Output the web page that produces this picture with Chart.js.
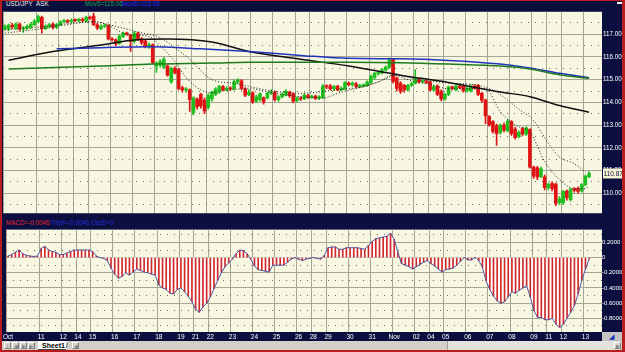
<!DOCTYPE html>
<html>
<head>
<meta charset="utf-8">
<script src="https://cdn.jsdelivr.net/npm/chart.js@4.4.0/dist/chart.umd.min.js"></script>
<style>
  body { margin:0; width:625px; height:352px; overflow:hidden; background:#b81c1c; font-family:Arial, "Liberation Sans", sans-serif; }
  .abs { position:absolute; }
  .navy { background:#0b0f3f; }
  .txt { position:absolute; font-size:6.3px; line-height:7px; white-space:nowrap; }
  canvas { position:absolute; }
  .btn { position:absolute; top:1px; width:7px; height:7px; background:#d4d0c8; border:1px solid #fff; border-right-color:#808080; border-bottom-color:#808080; font-size:5px; line-height:6px; text-align:center; color:#808080; box-sizing:border-box; overflow:hidden; }
</style>
</head>
<body>
<div class="abs navy" style="left:2px;top:1px;width:620px;height:6px;">
  <span class="txt" style="left:4px;top:-1px;color:#e8e8e8;">USD/JPY_ASK</span>
  <span class="txt" style="left:83px;top:-1px;color:#18a050;">Mov5=115.06</span>
  <span class="txt" style="left:120px;top:-1px;color:#2a2ae0;">Mov6=115.09</span>
  <div class="abs" style="left:615px;top:1px;width:5px;height:2px;background:#f0f0f0;"></div>
</div>
<canvas id="price" width="620" height="211" style="left:2px;top:7px;"></canvas>
<div class="abs navy" style="left:2px;top:218px;width:620px;height:8px;">
  <span class="txt" style="left:4px;top:1px;color:#e02828;">MACD=-0.0046</span>
  <span class="txt" style="left:48px;top:1px;color:#2a2ad0;">Trig9=-0.0046 OscE=0</span>
</div>
<canvas id="macd" width="620" height="115" style="left:2px;top:226px;"></canvas>
<div class="abs" style="left:602px;top:332px;width:20px;height:9px;background:#c4c4c4;">
  <span class="txt" style="left:7px;top:1px;color:#1030c0;font-size:7px;">&#9698;</span>
</div>
<div class="abs" style="left:2px;top:341px;width:620px;height:9px;background:#d4d0c8;">
  <div class="btn" style="left:2px;">|&#9664;</div>
  <div class="btn" style="left:10px;">&#9664;</div>
  <div class="btn" style="left:18px;">&#9654;</div>
  <div class="btn" style="left:26px;">&#9654;|</div>
  <div class="abs" style="left:36px;top:0px;width:28px;height:8px;background:#fff;border-bottom:1px solid #404040;"></div>
  <span class="txt" style="left:40px;top:1px;color:#000;font-weight:bold;font-size:7px;">Sheet1</span>
  <span class="txt" style="left:64px;top:1px;color:#000;">/</span>
  <div class="btn" style="left:70px;">&#9664;</div>
  <div class="abs" style="left:445px;top:0px;width:168px;height:9px;background:#e4e2dc;border-left:1px solid #a0a0a0;"></div>
  <div class="btn" style="left:612px;">&#9654;</div>
</div>
<script>
// day labels along the time axis and the number of 4-hour bars in each day
const dayLabels = ['Oct','11','12','14','15','16','17','18','19','21','22','23','24','25','26','28','29','30','31','Nov','02','04','05','06','07','08','09','11','12','13'];
const dayBars = [9,6,4,4,6,6,6,6,4,4,6,6,6,6,4,4,6,6,6,6,4,4,6,6,6,6,4,4,6,2];
const emptyBars = 3;

const open = [117.25,117.22,117.40,117.28,117.45,117.22,117.28,117.32,117.42,117.55,
  117.75,117.25,117.35,117.45,117.30,117.42,117.55,117.60,117.55,117.62,
  117.60,117.66,117.58,117.75,117.80,117.42,117.25,117.35,117.38,116.80,
  116.76,116.60,116.90,117.05,116.98,116.68,117.05,116.80,116.70,116.48,
  116.53,115.60,115.65,115.55,115.60,114.90,115.50,115.45,114.65,114.55,
  114.55,113.55,114.15,114.35,114.10,113.78,114.15,114.35,114.48,114.70,
  114.55,114.62,114.60,114.90,114.95,114.60,114.35,114.42,114.05,114.12,
  114.20,114.20,114.40,114.45,114.12,114.25,114.32,114.45,114.38,114.08,
  114.20,114.15,114.30,114.22,114.28,114.18,114.22,114.72,114.72,114.60,
  114.72,114.55,114.60,114.85,114.78,114.82,114.70,114.72,114.75,114.88,
  115.10,115.28,115.30,115.42,115.55,115.88,115.08,114.85,114.75,114.55,
  114.75,114.85,115.00,114.90,114.92,114.90,114.55,114.72,114.50,114.15,
  114.35,114.68,114.55,114.72,114.72,114.50,114.50,114.72,114.75,114.40,
  114.10,113.38,113.15,112.98,112.68,113.00,112.75,113.15,112.82,112.50,
  112.85,112.60,112.80,111.15,111.12,110.72,110.72,110.25,110.42,110.40,
  109.60,109.58,110.10,109.72,110.18,110.22,110.10,110.38,110.72];
const high = [117.42,117.45,117.48,117.50,117.50,117.35,117.42,117.50,117.65,117.85,
  117.80,117.42,117.48,117.50,117.48,117.60,117.66,117.65,117.68,117.68,
  117.70,117.72,117.80,117.80,117.93,117.48,117.42,117.45,117.42,116.85,
  116.80,116.98,117.10,117.10,117.00,117.12,117.10,116.85,116.78,116.62,
  116.58,115.80,115.88,115.98,115.65,115.55,115.58,115.50,114.72,114.65,
  114.60,114.25,114.20,114.40,114.20,114.38,114.50,114.65,114.75,114.75,
  114.70,114.68,114.98,115.05,115.00,114.65,114.55,114.48,114.32,114.42,
  114.25,114.45,114.55,114.50,114.30,114.42,114.55,114.50,114.42,114.25,
  114.25,114.38,114.35,114.32,114.32,114.30,114.78,114.78,114.80,114.75,
  114.75,114.68,114.92,114.90,114.90,114.88,114.80,114.82,114.95,115.20,
  115.32,115.35,115.50,115.60,115.95,115.92,115.12,114.92,114.80,114.80,
  114.90,115.45,115.05,114.98,114.98,114.95,114.75,114.78,114.55,114.40,
  114.72,114.72,114.78,114.78,114.78,114.68,114.78,114.78,114.80,114.45,
  114.15,113.42,113.20,113.05,113.05,113.10,113.25,113.20,112.90,112.75,
  112.90,112.92,112.85,111.20,111.18,111.15,110.80,110.45,110.50,110.45,
  109.85,110.12,110.15,110.22,110.25,110.28,110.42,110.80,110.95];
const low = [117.18,117.15,117.25,117.20,117.15,117.08,117.20,117.25,117.38,117.50,
  117.05,117.20,117.28,117.22,117.25,117.38,117.50,117.50,117.50,117.55,
  117.55,117.55,117.55,117.65,117.38,117.20,117.20,117.30,116.75,116.70,
  116.50,116.55,116.85,116.95,116.25,116.62,116.72,116.55,116.40,116.38,
  115.70,115.32,115.55,115.50,115.15,114.85,115.25,114.55,114.45,114.45,
  113.60,113.45,113.70,113.75,113.50,113.70,114.05,114.30,114.40,114.50,
  114.50,114.52,114.55,114.82,114.55,114.25,114.30,113.95,114.00,114.05,
  113.92,114.15,114.35,114.05,114.05,114.20,114.28,114.22,113.98,114.02,
  114.08,114.12,114.18,114.18,114.12,114.12,114.18,114.60,114.55,114.52,
  114.50,114.50,114.55,114.72,114.70,114.65,114.65,114.68,114.70,114.82,
  115.02,115.20,115.25,115.38,115.50,114.85,114.50,114.40,114.45,114.50,
  114.70,114.80,114.85,114.85,114.82,114.50,114.48,114.30,114.08,114.10,
  114.30,114.55,114.50,114.60,114.45,114.45,114.45,114.58,114.30,114.00,
  113.06,112.95,112.65,112.10,112.60,112.70,112.70,112.55,112.38,112.45,
  112.55,112.55,111.10,110.65,110.60,110.70,110.15,110.15,110.10,109.45,
  109.50,109.50,109.70,109.65,110.05,110.00,110.05,110.32,110.70];
const close = [117.35,117.40,117.32,117.45,117.22,117.28,117.35,117.45,117.58,117.78,
  117.25,117.35,117.42,117.30,117.42,117.55,117.60,117.55,117.62,117.60,
  117.66,117.60,117.75,117.70,117.42,117.28,117.35,117.38,116.80,116.76,
  116.58,116.92,117.05,117.00,116.70,117.05,116.80,116.62,116.48,116.55,
  115.75,115.72,115.80,115.90,115.20,115.50,115.30,114.62,114.55,114.58,
  114.12,114.20,113.80,113.85,113.62,114.30,114.45,114.60,114.70,114.55,
  114.62,114.60,114.92,114.98,114.62,114.32,114.45,114.02,114.25,114.38,
  114.02,114.40,114.45,114.12,114.25,114.35,114.50,114.30,114.05,114.20,
  114.15,114.32,114.22,114.28,114.18,114.25,114.72,114.68,114.60,114.70,
  114.55,114.62,114.88,114.78,114.85,114.70,114.75,114.78,114.90,115.15,
  115.28,115.30,115.45,115.55,115.88,114.92,114.62,114.48,114.55,114.75,
  114.82,115.05,114.90,114.92,114.88,114.55,114.70,114.35,114.15,114.35,
  114.68,114.62,114.72,114.65,114.50,114.62,114.72,114.62,114.35,114.10,
  113.40,113.02,112.72,112.62,113.00,112.78,113.18,112.62,112.45,112.68,
  112.60,112.88,111.15,110.75,110.72,111.08,110.25,110.40,110.20,109.55,
  109.75,110.08,109.80,110.18,110.12,110.08,110.38,110.75,110.87];

// moving averages, read at a few bars (bar index, price)
const blackIdx = [1,13,26,35,44,56,66,80,93,107,120,134,142,150,158];
const blackVal = [115.86,116.24,116.53,116.75,116.79,116.66,116.24,115.90,115.60,115.20,114.88,114.46,114.25,113.86,113.57];
const blueIdx = [14,26,39,53,66,80,93,107,120,134,142,150,158];
const blueVal = [116.36,116.41,116.45,116.36,116.24,116.07,115.94,115.92,115.85,115.69,115.52,115.28,115.09];
const greenIdx = [1,26,40,56,66,80,93,107,120,134,142,150,158];
const greenVal = [115.47,115.60,115.69,115.73,115.77,115.77,115.77,115.75,115.69,115.60,115.47,115.22,115.06];
const fastIdx = [0,8,16,24,28,32,36,39,42,46,49,53,56,60,66,73,80,86,91,96,101,105,110,115,120,125,130,134,138,142,146,150,154,157,158];
const fastVal = [117.05,117.20,117.40,117.55,117.40,117.05,116.95,116.90,116.50,115.80,115.10,114.55,114.42,114.54,114.60,114.40,114.25,114.20,114.45,114.65,114.90,115.20,114.95,114.80,114.60,114.60,114.60,113.60,113.00,112.70,111.40,110.60,110.20,110.20,110.30];
const slowIdx = [0,8,16,24,30,36,42,46,50,53,56,62,71,80,89,96,101,106,112,120,128,133,139,143,147,150,154,157];
const slowVal = [117.20,117.30,117.45,117.55,117.35,117.10,116.85,116.40,115.90,115.40,115.00,114.84,114.54,114.40,114.54,114.67,114.90,115.20,115.00,114.85,114.75,114.45,113.70,113.20,112.20,111.60,111.30,110.94];

const macd = [0.02,0.04,0.07,0.10,0.05,0.03,0.02,0.015,0.02,0.12,
  0.15,0.10,0.08,0.07,0.04,0.04,0.06,0.08,0.10,0.10,
  0.10,0.10,0.10,0.08,0.02,0.00,-0.01,-0.04,-0.14,-0.22,
  -0.27,-0.25,-0.20,-0.23,-0.19,-0.15,-0.17,-0.19,-0.20,-0.22,
  -0.23,-0.36,-0.40,-0.42,-0.47,-0.48,-0.42,-0.40,-0.45,-0.51,
  -0.58,-0.68,-0.72,-0.65,-0.60,-0.52,-0.41,-0.30,-0.20,-0.12,
  -0.07,-0.02,0.05,0.10,0.09,0.05,-0.02,-0.11,-0.16,-0.17,
  -0.18,-0.19,-0.10,-0.10,-0.10,-0.10,-0.06,-0.02,0.00,-0.02,
  -0.04,-0.02,-0.01,0.00,-0.01,-0.02,0.03,0.13,0.14,0.14,
  0.11,0.11,0.13,0.13,0.13,0.13,0.12,0.11,0.16,0.21,
  0.25,0.26,0.27,0.28,0.32,0.24,0.07,-0.08,-0.10,-0.12,
  -0.15,-0.12,-0.09,-0.06,-0.04,-0.08,-0.11,-0.15,-0.19,-0.16,
  -0.15,-0.14,-0.10,-0.05,0.00,-0.03,-0.03,0.00,-0.04,-0.13,
  -0.31,-0.42,-0.51,-0.57,-0.60,-0.58,-0.52,-0.45,-0.47,-0.43,
  -0.40,-0.37,-0.52,-0.70,-0.79,-0.79,-0.82,-0.82,-0.80,-0.88,
  -0.92,-0.88,-0.80,-0.72,-0.63,-0.48,-0.30,-0.15,-0.02];

const NAVY = '#0b0f3f';
const PLOT_BG = '#f8f8e2';
const GRID = '#a6a696';
const DOTS = '#6e6e60';
const UP = '#1fbf1f';
const DOWN = '#e01414';

const barLabels = [];
dayLabels.forEach((d, k) => {
  for (let j = 0; j < dayBars[k]; j++) barLabels.push(j === 0 ? d : '');
});
for (let j = 0; j < emptyBars; j++) barLabels.push('');

function sparse(idx, vals) {
  const a = new Array(barLabels.length).fill(null);
  idx.forEach((i, k) => { a[i] = vals[k]; });
  return a;
}

Chart.defaults.font.family = 'Arial, "Liberation Sans", sans-serif';
Chart.defaults.animation = false;

const panelBg = {
  id: 'panelBg',
  beforeDraw(chart) {
    const { ctx, chartArea: a } = chart;
    ctx.save();
    ctx.fillStyle = NAVY;
    ctx.fillRect(0, 0, chart.width, chart.height);
    ctx.fillStyle = PLOT_BG;
    ctx.fillRect(a.left, a.top, a.right - a.left, a.bottom - a.top);
    ctx.restore();
  }
};

const lastPrice = {
  id: 'lastPrice',
  afterDraw(chart) {
    const v = close[close.length - 1];
    const y = chart.scales.y.getPixelForValue(v);
    const x = chart.chartArea.right;
    const ctx = chart.ctx;
    ctx.save();
    ctx.fillStyle = '#f4f4d2';
    ctx.fillRect(x + 1, y - 5, 19, 10);
    ctx.fillStyle = '#101040';
    ctx.font = '6.5px Arial, "Liberation Sans", sans-serif';
    ctx.textBaseline = 'middle';
    ctx.fillText(v.toFixed(2), x + 1.5, y + 0.5);
    ctx.restore();
  }
};

const dayGrid = c => (barLabels[c.index] ? GRID : 'transparent');
const candleColor = c => (close[c.dataIndex] >= open[c.dataIndex] ? UP : DOWN);

function lineSet(data, color, width, dash) {
  return {
    type: 'line', data, borderColor: color, borderWidth: width, borderDash: dash || [],
    pointRadius: 0, spanGaps: true, cubicInterpolationMode: 'monotone', order: 0
  };
}

const PMIN = 109.12, PMAX = 117.99;

new Chart(document.getElementById('price'), {
  type: 'bar',
  data: {
    labels: barLabels,
    datasets: [
      lineSet(sparse(fastIdx, fastVal), '#202020', 1, [1, 2]),
      lineSet(sparse(slowIdx, slowVal), '#202020', 1, [1, 2]),
      lineSet(sparse(greenIdx, greenVal), '#1f7a1f', 1.5),
      lineSet(sparse(blueIdx, blueVal), '#2233bb', 1.5),
      lineSet(sparse(blackIdx, blackVal), '#101010', 1.5),
      { data: low.map((l, i) => [l, high[i]]), backgroundColor: candleColor, barThickness: 1, grouped: false, order: 2 },
      { data: open.map((o, i) => [o, close[i]]), backgroundColor: candleColor, barThickness: 3, grouped: false, minBarLength: 1, order: 1 }
    ]
  },
  options: {
    responsive: false,
    layout: { padding: { left: 1, right: 0, top: 0, bottom: 0 } },
    plugins: { legend: { display: false }, tooltip: { enabled: false } },
    scales: {
      x: {
        offset: true,
        grid: { offset: true, color: dayGrid, drawTicks: false },
        ticks: { display: false, autoSkip: false },
        border: { display: false },
        afterFit: s => { s.height = 0; }
      },
      y: {
        position: 'right', min: PMIN, max: PMAX,
        afterFit: s => { s.width = 20; },
        ticks: { stepSize: 1, includeBounds: false, color: '#ffffff', font: { size: 6.3 }, padding: 1, callback: v => v.toFixed(2) },
        grid: { color: GRID, drawTicks: false },
        border: { display: false }
      },
      yd: {
        type: 'linear', axis: 'y', position: 'left', min: PMIN, max: PMAX,
        afterFit: s => { s.width = 0; },
        ticks: { display: false, stepSize: 0.5, includeBounds: false },
        grid: { color: c => (Math.abs(c.tick.value - Math.round(c.tick.value)) > 0.25 ? DOTS : 'transparent'), drawTicks: false },
        border: { display: false, dash: [1, 6] }
      }
    }
  },
  plugins: [panelBg, lastPrice]
});

const MMIN = -0.981, MMAX = 0.369;

new Chart(document.getElementById('macd'), {
  type: 'bar',
  data: {
    labels: barLabels,
    datasets: [
      { type: 'line', data: macd, borderColor: '#4a58a0', borderWidth: 1, pointRadius: 0, fill: 'origin',
        backgroundColor: 'rgba(255,255,255,0.9)', tension: 0, order: 0 },
      { data: macd, backgroundColor: '#d02828', barThickness: 1, order: 1 }
    ]
  },
  options: {
    responsive: false,
    layout: { padding: { left: 1, right: 0, top: 0, bottom: 0 } },
    plugins: { legend: { display: false }, tooltip: { enabled: false }, filler: { drawTime: 'beforeDatasetsDraw' } },
    scales: {
      x: {
        offset: true,
        grid: { offset: true, color: dayGrid, drawTicks: false },
        ticks: { autoSkip: false, maxRotation: 0, minRotation: 0, color: '#ffffff', font: { size: 6.5 }, padding: 1 },
        border: { display: false },
        afterFit: s => { s.height = 9; }
      },
      y: {
        position: 'right', min: MMIN, max: MMAX,
        afterFit: s => { s.width = 20; },
        ticks: { stepSize: 0.2, includeBounds: false, color: '#ffffff', font: { size: 6 }, padding: 0,
          callback: v => (Math.abs(v) < 1e-9 ? '0' : v.toFixed(4)) },
        grid: { color: GRID, drawTicks: false },
        border: { display: false }
      },
      yd: {
        type: 'linear', axis: 'y', position: 'left', min: MMIN, max: MMAX,
        afterFit: s => { s.width = 0; },
        ticks: { display: false, stepSize: 0.1, includeBounds: false },
        grid: { color: c => (Math.abs(Math.round(c.tick.value * 10)) % 2 === 1 ? DOTS : 'transparent'), drawTicks: false },
        border: { display: false, dash: [1, 6] }
      }
    }
  },
  plugins: [panelBg]
});
</script>
</body>
</html>
